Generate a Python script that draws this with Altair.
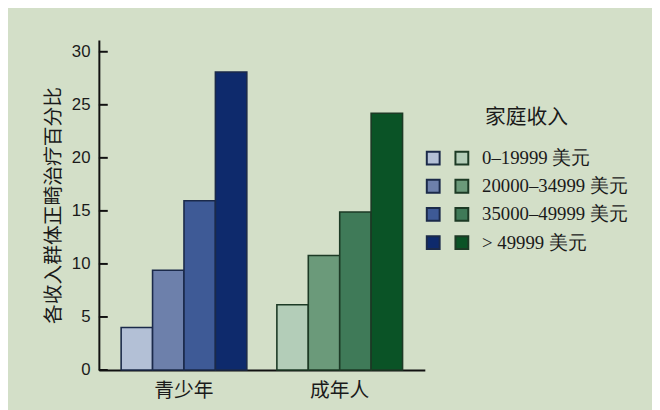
import altair as alt
import pandas as pd

groups = ["青少年", "成年人"]
incomes = ["0–19999 美元", "20000–34999 美元", "35000–49999 美元", "> 49999 美元"]
teen_vals = [4.0, 9.4, 15.95, 28.1]
adult_vals = [6.15, 10.8, 14.9, 24.2]
blues = ["#b3c0d6", "#6d80ab", "#3e5a96", "#0e2a6c"]
greens = ["#b3cdb8", "#6b9a7a", "#3f7a58", "#0a5326"]
y_ticks = [0, 5, 10, 15, 20, 25, 30]
legend_title = "家庭收入"

rows = []
for g, vals in zip(groups, [teen_vals, adult_vals]):
    for inc, v in zip(incomes, vals):
        rows.append({"group": g, "income": inc, "value": v})
df = pd.DataFrame(rows)

BG = "#d3dfc8"
CJK = "Noto Sans CJK SC"
SERIF = "'Liberation Serif', 'Times New Roman', serif"

x_enc = alt.X(
    "group:N",
    scale=alt.Scale(domain=groups, paddingInner=0.193, paddingOuter=0.143),
    axis=alt.Axis(
        title=None, ticks=False, labelAngle=0, labelFont=CJK, labelFontSize=20,
        labelColor="#1a1a1a", labelPadding=11, domainColor="#111", domainWidth=2,
    ),
)
xo_enc = alt.XOffset("income:N", scale=alt.Scale(domain=incomes, paddingInner=0, paddingOuter=0))
y_enc = alt.Y(
    "value:Q",
    scale=alt.Scale(domain=[0, 31.1], nice=False),
    axis=alt.Axis(
        title="各收入群体正畸治疗百分比", values=y_ticks, ticks=False, grid=False,
        labelFont="Liberation Sans", labelFontSize=17, labelColor="#1a1a1a", labelPadding=9,
        titleFont=CJK, titleFontSize=20, titleFontWeight="normal", titleColor="#1a1a1a",
        titlePadding=8, domainColor="#111", domainWidth=2,
    ),
)

base = alt.Chart(df)

teen = base.transform_filter(alt.datum.group == groups[0]).mark_bar(
    stroke="#1b2a4a", strokeWidth=1.6
).encode(
    x=x_enc, xOffset=xo_enc, y=y_enc,
    color=alt.Color(
        "income:N",
        scale=alt.Scale(domain=incomes, range=blues),
        legend=alt.Legend(
            orient="none", legendX=329, legendY=110, title=None, padding=0,
            symbolType="square", symbolSize=169, symbolStrokeColor="#1b2a4a",
            symbolStrokeWidth=2, symbolOpacity=1, labelExpr="''",
            labelFont=SERIF, labelFontSize=19, rowPadding=7.5, labelOffset=11,
        ),
    ),
)

adult = base.transform_filter(alt.datum.group == groups[1]).mark_bar(
    stroke="#1c3a25", strokeWidth=1.6
).encode(
    x=x_enc, xOffset=xo_enc, y=y_enc,
    color=alt.Color(
        "income:N",
        scale=alt.Scale(domain=incomes, range=greens),
        legend=alt.Legend(
            orient="none", legendX=358, legendY=110, title=None, padding=0,
            symbolType="square", symbolSize=169, symbolStrokeColor="#1c3a25",
            symbolStrokeWidth=2, symbolOpacity=1, labelColor="#1a1a1a",
            labelFont=SERIF, labelFontSize=19, rowPadding=7.5, labelOffset=11,
            labelLimit=300,
        ),
    ),
)

ticks = alt.Chart(pd.DataFrame({"v": y_ticks})).mark_rule(
    color="#111", strokeWidth=2
).encode(y=alt.Y("v:Q"), x=alt.value(0), x2=alt.value(9))

title = alt.Chart(pd.DataFrame({"t": [legend_title]})).mark_text(
    align="left", baseline="middle", font=CJK, fontSize=21, color="#1a1a1a"
).encode(text="t:N", x=alt.value(391), y=alt.value(79))

chart = alt.layer(teen, adult, ticks, title).resolve_scale(
    color="independent"
).properties(
    width=330, height=334,
    padding={"left": 92, "top": 30, "right": 230, "bottom": 38},
    autosize=alt.AutoSizeParams(type="none"),
    background=BG,
).configure_view(stroke=None).configure_legend(labelFont=SERIF)

chart.save("out.html", embed_options={"renderer": "svg", "actions": False})
